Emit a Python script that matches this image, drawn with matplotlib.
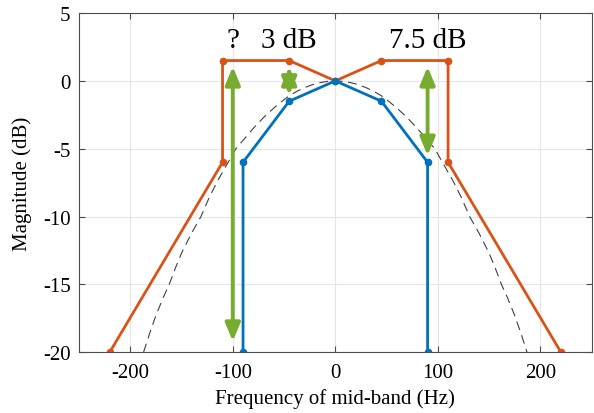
import matplotlib
matplotlib.use("Agg")
import matplotlib.pyplot as plt

plt.rcParams["font.family"] = ["Liberation Serif", "DejaVu Serif"]
plt.rcParams["axes.unicode_minus"] = False

# orange response (wide)
orange_f = [-220, -110, -110, -45, 0, 45, 110, 110, 220]
orange_db = [-20, -6, 1.5, 1.5, 0, 1.5, 1.5, -6, -20]

# blue response (narrow)
blue_f = [-90, -90, -45, 0, 45, 90, 90]
blue_db = [-20, -6, -1.5, 0, -1.5, -6, -20]

# dashed reference curve
ref_f = [-187, -181, -175, -168, -162, -156, -150, -140, -131, -123, -115, -106,
         -97, -89, -80, -70, -60, -52, -45, -37, -30, -22, -15, -7,
         0, 7, 15, 22, 30, 37, 45, 52, 60, 70, 80, 89, 97, 106,
         115, 123, 131, 140, 150, 156, 162, 168, 175, 181, 187]
ref_db = [-20, -18.6, -17.3, -16.0, -15, -13.8, -12.7, -11.2, -10, -8.6, -7.4, -6.2,
          -5, -4.3, -3.5, -2.7, -2.0, -1.5, -1.1, -0.75, -0.5, -0.27, -0.13, -0.03,
          0, -0.03, -0.13, -0.27, -0.5, -0.75, -1.1, -1.5, -2.0, -2.7, -3.5, -4.3, -5, -6.2,
          -7.4, -8.6, -10, -11.2, -12.7, -13.8, -15, -16.0, -17.3, -18.6, -20]

# green double arrows: x, top, bottom
arrow_x = [-100, -45, 90]
arrow_top = [1.05, 1.05, 1.05]
arrow_bot = [-19.2, -1.05, -5.5]

labels = ["?", "3 dB", "7.5 dB"]
label_x = [-100, -45, 90]
label_y = [3.0, 3.0, 3.0]

fig = plt.figure(figsize=(5.94, 4.14), dpi=100)
ax = fig.add_axes([0.133, 0.147, 0.863, 0.819])

ax.plot(ref_f, ref_db, color="0.25", lw=0.8, dashes=(8, 5))
ax.plot(orange_f, orange_db, color="#D95319", lw=2, marker="o", ms=4.5)
ax.plot(blue_f, blue_db, color="#0072BD", lw=2, marker="o", ms=4.5)

for x, t, b in zip(arrow_x, arrow_top, arrow_bot):
    ax.annotate("", xy=(x, t), xytext=(x, b),
                arrowprops=dict(arrowstyle="<|-|>,head_length=0.6,head_width=0.25",
                                color="#77AC30", lw=2.8, shrinkA=0, shrinkB=0,
                                mutation_scale=18))

for s, x, y in zip(labels, label_x, label_y):
    ax.text(x, y, s, ha="center", va="center", fontsize=21)

ax.set_xlim(-250, 250)
ax.set_ylim(-20, 5)
ax.set_xticks([-200, -100, 0, 100, 200])
ax.set_yticks([-20, -15, -10, -5, 0, 5])
ax.grid(True, color="0.9", lw=0.8)
ax.set_axisbelow(True)
ax.tick_params(direction="in", top=True, right=True, labelsize=15,
               length=4, color="0.3")
ax.tick_params(axis="x", pad=8)
ax.tick_params(axis="y", pad=6)
for sp in ax.spines.values():
    sp.set_color("0.3")
ax.set_xlabel("Frequency of mid-band (Hz)", fontsize=15, labelpad=4)
ax.set_ylabel("Magnitude (dB)", fontsize=15, labelpad=8)

fig.savefig("out.png", dpi=100)
